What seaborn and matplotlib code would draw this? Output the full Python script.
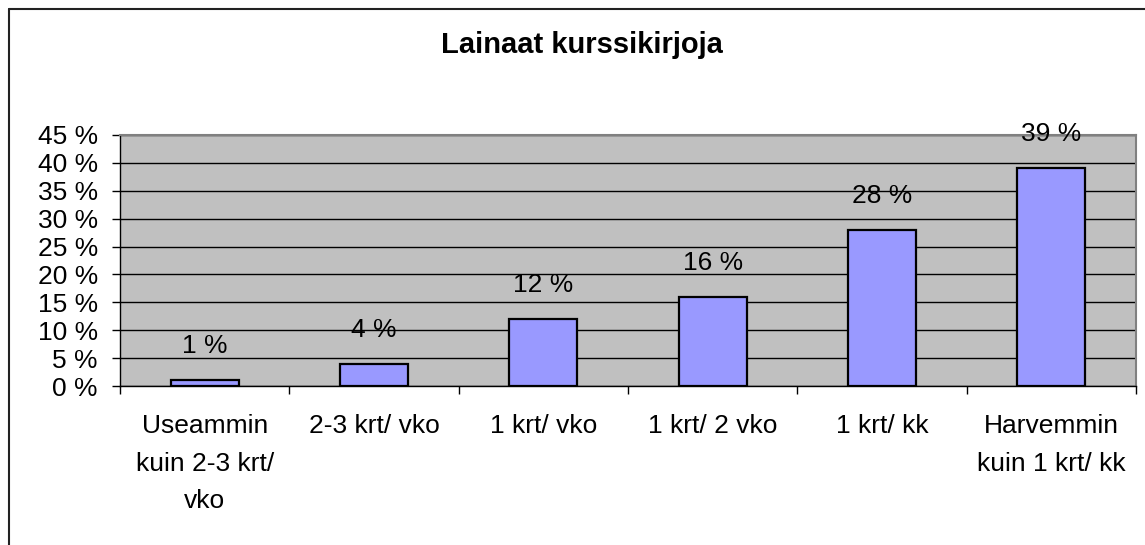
#!/usr/bin/env python3
import numpy as np
import pandas as pd
import seaborn as sns
from matplotlib import pyplot as plt
from matplotlib.lines import Line2D

categories = ["Useammin\nkuin 2-3 krt/\nvko", "2-3 krt/ vko", "1 krt/ vko",
              "1 krt/ 2 vko", "1 krt/ kk", "Harvemmin\nkuin 1 krt/ kk"]
values = [1, 4, 12, 16, 28, 39]
yticks = [0, 5, 10, 15, 20, 25, 30, 35, 40, 45]
title = "Lainaat kurssikirjoja"


def main():
    sns.set_style("white")
    plt.rcParams['font.family'] = ['Liberation Sans', 'DejaVu Sans']
    plt.rcParams['text.color'] = 'black'
    plt.rcParams['xtick.color'] = 'black'
    plt.rcParams['ytick.color'] = 'black'
    plt.rcParams['axes.labelcolor'] = 'black'

    df = pd.DataFrame({"cat": categories, "val": values})

    fig = plt.figure(figsize=(11.45, 5.45), dpi=100)
    ax = fig.add_axes([0.1048, 0.2917, 0.8873, 0.4606])
    ax.set_facecolor("#C0C0C0")

    sns.barplot(data=df, x="cat", y="val", color="#9999FF", edgecolor="black",
                linewidth=1.6, width=0.4, saturation=1, ax=ax, zorder=3)

    ax.set_ylim(0, 45)
    ax.set_xlim(-0.5, len(categories) - 0.5)
    ax.set_yticks(yticks)
    ax.set_yticklabels(["{} %".format(v) for v in yticks], fontsize=19)
    ax.yaxis.grid(True, color="black", linewidth=1.0, zorder=1)
    ax.set_axisbelow(True)

    # category labels in the middle, tick marks on the boundaries
    ax.tick_params(axis="x", which="major", length=0, pad=20.5, labelsize=19)
    for lab in ax.get_xticklabels():
        lab.set_linespacing(1.7)
    ax.set_xticks(np.arange(-0.5, len(categories)), minor=True)
    ax.tick_params(axis="x", which="minor", direction="out", length=6,
                   width=1, color="black", bottom=True)
    ax.tick_params(axis="y", direction="out", length=6, width=1,
                   color="black", left=True, pad=10)

    for side in ["top", "right"]:
        ax.spines[side].set_color("#808080")
        ax.spines[side].set_linewidth(1.5)
    for side in ["left", "bottom"]:
        ax.spines[side].set_color("black")
        ax.spines[side].set_linewidth(1.0)

    ax.set_xlabel("")
    ax.set_ylabel("")

    for i, v in enumerate(values):
        ax.annotate("{} %".format(v), (i, v), xytext=(0, 22),
                    textcoords="offset pixels", ha="center", va="bottom",
                    fontsize=19, zorder=5)

    fig.text(0.508, 0.918, title, ha="center", va="center",
             fontsize=21, fontweight="bold")

    # outer chart border (left and top visible)
    fig.add_artist(Line2D([8.5 / 1145, 8.5 / 1145], [0, 1 - 9 / 545],
                          transform=fig.transFigure, color="#222222", lw=1.5))
    fig.add_artist(Line2D([8.5 / 1145, 1], [1 - 9 / 545, 1 - 9 / 545],
                          transform=fig.transFigure, color="#222222", lw=1.5))

    plt.savefig("out.png", dpi=100)


if __name__ == '__main__':
    main()
